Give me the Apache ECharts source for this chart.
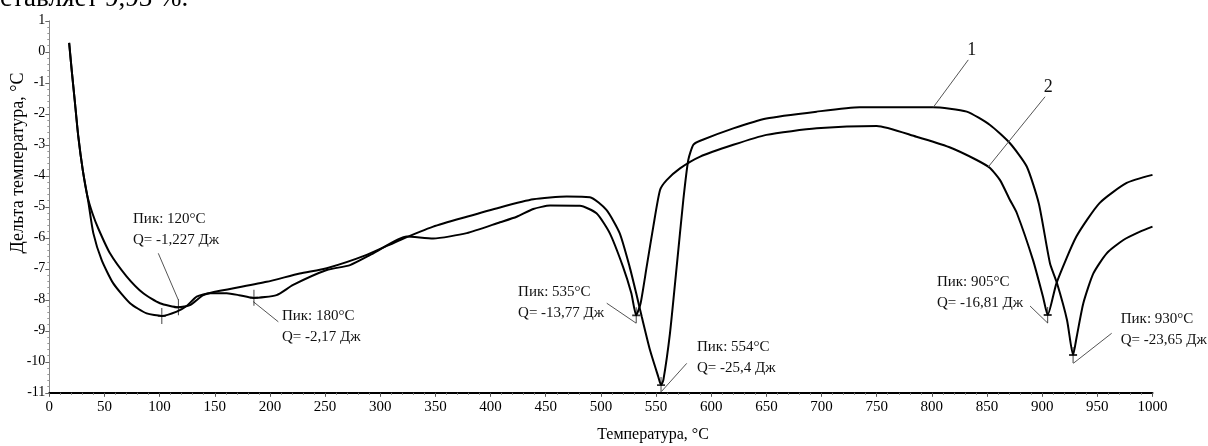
<!DOCTYPE html>
<html>
<head>
<meta charset="utf-8">
<script src="https://cdn.jsdelivr.net/npm/echarts@6/dist/echarts.min.js"></script>
<style>
html, body {margin:0; padding:0; background:#fff;}
#container {width:1208px; height:446px;}
</style>
</head>
<body>
<div id="container"></div>
<script>
// кривая 1 (верхняя на 600-850, пики 554 и 930)
var curve1 = [
    [18, 0.29], [20.3, -0.59], [23.3, -1.66], [26.3, -2.74], [30.3, -3.81], [34.5, -4.65],
    [39, -5.2], [44.4, -5.7], [55, -6.5], [70.2, -7.25], [85.2, -7.79], [100.3, -8.11], [117, -8.24],
    [127.5, -8.17], [139.6, -7.85], [154.7, -7.71], [197, -7.42], [227, -7.15], [251.5, -6.98],
    [287.7, -6.55], [318, -6.07], [348, -5.64], [378.4, -5.32], [408.5, -5.02], [438.7, -4.76],
    [469, -4.67], [490, -4.69], [505, -5.1], [517, -5.85], [526, -6.93], [532, -7.79],
    [537, -8.54], [544.5, -9.62], [552, -10.48], [554.5, -10.75], [556.6, -10.59], [562.6, -9.08],
    [568.7, -6.93], [574.7, -4.78], [579.2, -3.49], [583.8, -3.0], [590, -2.87], [620, -2.47],
    [650, -2.15], [695.6, -1.93], [734.6, -1.79], [771, -1.79], [801, -1.79], [831.6, -1.93],
    [852.7, -2.36], [870.8, -2.95], [886, -3.7], [897, -4.9], [907, -6.81], [913.4, -7.46],
    [922.5, -8.65], [928, -9.78], [931.3, -9.19], [937.3, -8.11], [946.4, -7.15], [958.5, -6.5],
    [973.6, -6.07], [988.7, -5.8], [1000, -5.64]
];
// кривая 2 (нижняя на 600-850, пики 535 и 905)
var curve2 = [
    [18, 0.29], [20.3, -0.59], [23.3, -1.66], [26.3, -2.74], [30.3, -3.81], [35.4, -4.85],
    [39.9, -5.85], [47.5, -6.72], [58, -7.47], [73.2, -8.11], [88.3, -8.44], [102, -8.52],
    [115.5, -8.38], [124.5, -8.2], [133.6, -7.9], [145.7, -7.79], [160.8, -7.79], [172, -7.85],
    [185, -7.94], [206, -7.85], [221, -7.52], [251.5, -7.04], [272.6, -6.88], [293.7, -6.5],
    [324, -5.96], [348, -6.02], [378.4, -5.85], [408.5, -5.5], [423.7, -5.32], [438.7, -5.07],
    [453.9, -4.96], [481, -4.97], [496, -5.21], [508, -5.85], [520, -6.93], [527.6, -7.79],
    [532, -8.5], [536, -8.11], [541.5, -6.93], [547.5, -5.64], [553.6, -4.46], [559.6, -4.14],
    [571.7, -3.76], [590, -3.38], [620, -3.0], [650, -2.68], [695.6, -2.47], [750, -2.39],
    [786, -2.74], [816, -3.08], [840.6, -3.49], [852.7, -3.75], [861.8, -4.14], [870.8, -4.78],
    [877, -5.2], [891.7, -6.72], [900.8, -7.91], [905, -8.49], [913, -7.46], [931, -5.96],
    [952, -4.88], [976.6, -4.23], [1000, -3.97]
];
// отметки пиков
var peaks1 = [[117, -8.24], [554.5, -10.75], [928, -9.78]];
var peaks2 = [[102, -8.52], [185.5, -7.93], [532, -8.5], [905, -8.49]];

var peakTexts = [
    'Пик: 120°C\nQ= -1,227 Дж',
    'Пик: 180°C\nQ= -2,17 Дж',
    'Пик: 535°C\nQ= -13,77 Дж',
    'Пик: 554°C\nQ= -25,4 Дж',
    'Пик: 905°C\nQ= -16,81 Дж',
    'Пик: 930°C\nQ= -23,65 Дж'
];
var curveNames = ['1', '2'];

var fontFamily = '"Liberation Serif", "Times New Roman", serif';

var dom = document.getElementById('container');
var myChart = echarts.init(dom);

// подписи: координаты текста и выносных линий (в единицах осей)
var labelPos = [[75.9, -5.73], [210.9, -8.85], [424.9, -8.09], [587.1, -9.85], [804.6, -7.78], [971.2, -8.97]];
var leaders = [
    [[116.9, -8.0], [98.8, -6.5]],
    [[184.9, -8.06], [207.6, -8.71]],
    [[531.8, -8.75], [505.3, -8.11]],
    [[555.1, -10.95], [577.8, -10.05]],
    [[905, -8.75], [889, -8.2]],
    [[928.2, -10.05], [963, -9.08]],
    [[833, -0.26], [801.3, -1.79]],
    [[902.6, -1.45], [851.2, -3.71]]
];
var namePos = [[836.1, 0.06], [905.5, -1.15]];

var noteData = [];
for (var i = 0; i < peakTexts.length; i++) {
    noteData.push({name: peakTexts[i], coord: labelPos[i]});
}
for (var j = 0; j < curveNames.length; j++) {
    noteData.push({name: curveNames[j], coord: namePos[j],
        label: {fontSize: 18, position: 'inside', distance: 0, align: 'center'}});
}

var lineData = leaders.map(function (l) {
    return [{coord: l[0]}, {coord: l[1]}];
});

var markerSymbol = 'path://M4,0L4,16M0,8L8,8';

var option = {
    animation: false,
    backgroundColor: '#fff',
    grid: {left: 49.3, right: 55.5, top: 20.8, bottom: 53.2},
    xAxis: {
        type: 'value',
        min: 0,
        max: 1000,
        interval: 50,
        axisLine: {onZero: false, lineStyle: {color: '#000', width: 2}},
        axisTick: {show: true, length: 4, lineStyle: {color: '#555'}},
        minorTick: {show: true, splitNumber: 5, length: 2, lineStyle: {color: '#777'}},
        axisLabel: {color: '#000', fontFamily: fontFamily, fontSize: 15, margin: 7,
            formatter: function (v) { return String(v); }},
        splitLine: {show: false}
    },
    yAxis: {
        type: 'value',
        min: -11,
        max: 1,
        interval: 1,
        axisLine: {show: true, onZero: false, lineStyle: {color: '#888', width: 1}},
        axisTick: {show: true, length: 4, lineStyle: {color: '#666'}},
        minorTick: {show: true, splitNumber: 5, length: 2, lineStyle: {color: '#999'}},
        axisLabel: {color: '#000', fontFamily: fontFamily, fontSize: 14, margin: 4},
        splitLine: {show: false}
    },
    graphic: [
        {
            type: 'text',
            left: 0,
            top: -15,
            style: {text: 'ставляет 9,93 %.', font: '27px ' + fontFamily, fill: '#000'}
        },
        {
            type: 'text',
            x: 18,
            y: 163,
            rotation: Math.PI / 2,
            style: {text: 'Дельта температура, °C', font: '18px ' + fontFamily, fill: '#000',
                align: 'center', verticalAlign: 'middle'}
        },
        {
            type: 'text',
            x: 653,
            y: 435,
            style: {text: 'Температура, °C', font: '16px ' + fontFamily, fill: '#000',
                align: 'center', verticalAlign: 'middle'}
        }
    ],
    series: [
        {
            name: '1',
            type: 'line',
            data: curve1,
            showSymbol: false,
            smooth: 0.2,
            lineStyle: {color: '#000', width: 2}
        },
        {
            name: '2',
            type: 'line',
            data: curve2,
            showSymbol: false,
            smooth: 0.2,
            lineStyle: {color: '#000', width: 2},
            markLine: {
                silent: true,
                symbol: ['none', 'none'],
                label: {show: false},
                lineStyle: {color: '#555', width: 1, type: 'solid'},
                data: lineData
            },
            markPoint: {
                silent: true,
                symbol: 'circle',
                symbolSize: 0,
                label: {
                    show: true,
                    position: 'right',
                    distance: 0,
                    formatter: '{b}',
                    color: '#111',
                    fontFamily: fontFamily,
                    fontSize: 15,
                    lineHeight: 21,
                    align: 'left',
                    verticalAlign: 'middle'
                },
                data: noteData
            }
        },
        {
            type: 'scatter',
            data: peaks1.concat(peaks2),
            symbol: markerSymbol,
            symbolSize: [8, 16],
            itemStyle: {color: 'transparent', borderColor: '#000', borderWidth: 1.3},
            z: 5
        }
    ]
};

if (option && typeof option === 'object') {
    myChart.setOption(option);
}
</script>
</body>
</html>
